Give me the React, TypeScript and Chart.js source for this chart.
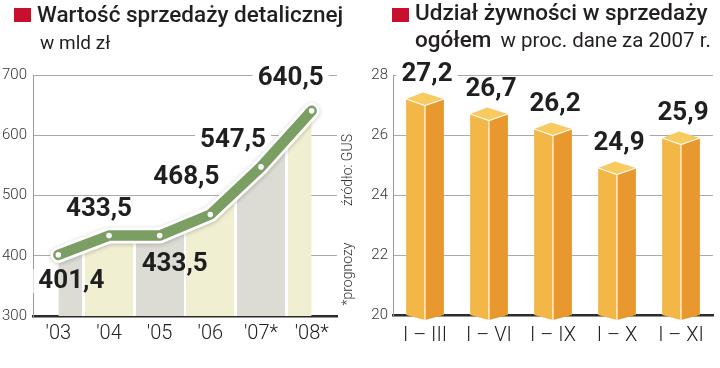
import React, { useEffect, useRef } from "react";
import { Chart, registerables } from "chart.js";

Chart.register(...registerables);

// ---------- data ----------
const YEARS = ["'03", "'04", "'05", "'06", "'07*", "'08*"];
const SALES = [401.4, 433.5, 433.5, 468.5, 547.5, 640.5];
const SALES_MIN = 300;
const SALES_MAX = 700;
const SALES_STEP = 100;

const PERIODS = ["I – III", "I – VI", "I – IX", "I – X", "I – XI"];
const FOOD_SHARE = [27.2, 26.7, 26.2, 24.9, 25.9];
const SHARE_MIN = 20;
const SHARE_MAX = 28;
const SHARE_STEP = 2;

// ---------- styles ----------
const FONT = "Roboto";
const GREEN = "#7b9f62";
const STRIPES = ["#dcdcd5", "#f0efd1"];
const FACE_L = "#f3b747";
const FACE_R = "#e8982c";
const FACE_T = "#f8ca5f";
const TEXT = "#1f1f1f";
// label offsets (px) relative to each point of the line chart
const SALES_LABEL_OFFSETS: [number, number][] = [
  [13, 26],
  [-10, -27],
  [15, 28],
  [-24, -38],
  [-28, -27],
  [-21, -33],
];

const fmt = (v: number) => v.toFixed(1).replace(".", ",");

function stripeFill(ctx: any) {
  const chart = ctx.chart;
  const area = chart.chartArea;
  const xs = chart.scales && chart.scales.x;
  if (!area || !xs) return STRIPES[0];
  const g = chart.ctx.createLinearGradient(area.left, 0, area.right, 0);
  const span = area.right - area.left;
  const n = chart.data.labels.length;
  const step = n > 1 ? xs.getPixelForValue(1) - xs.getPixelForValue(0) : span;
  const pos = (px: number) => Math.min(1, Math.max(0, (px - area.left) / span));
  const gap = 1.3;
  const blank = "rgba(255,255,255,1)";
  g.addColorStop(0, blank);
  for (let i = 0; i < n; i++) {
    const c = xs.getPixelForValue(i);
    const a = pos(c - step / 2 + gap);
    const b = pos(c + step / 2 - gap);
    const col = STRIPES[i % 2];
    g.addColorStop(a, blank);
    g.addColorStop(a, col);
    g.addColorStop(b, col);
    g.addColorStop(b, blank);
  }
  g.addColorStop(1, blank);
  return g;
}

const labelFont = `bold 26px ${FONT}`;

function drawLabelBoxes(chart: any, items: { x: number; y: number; text: string }[]) {
  const ctx = chart.ctx;
  ctx.save();
  ctx.font = labelFont;
  ctx.fillStyle = "#ffffff";
  items.forEach((it) => {
    const w = ctx.measureText(it.text).width;
    ctx.fillRect(it.x - w / 2 - 5, it.y - 12, w + 10, 24);
  });
  ctx.restore();
}

function drawLabelTexts(chart: any, items: { x: number; y: number; text: string }[]) {
  const ctx = chart.ctx;
  ctx.save();
  ctx.font = labelFont;
  ctx.fillStyle = TEXT;
  ctx.textAlign = "center";
  ctx.textBaseline = "middle";
  items.forEach((it) => ctx.fillText(it.text, it.x, it.y + 1));
  ctx.restore();
}

function salesLabelItems(chart: any) {
  const meta = chart.getDatasetMeta(2);
  return meta.data.map((pt: any, i: number) => ({
    x: pt.x + SALES_LABEL_OFFSETS[i][0],
    y: pt.y + SALES_LABEL_OFFSETS[i][1],
    text: fmt(SALES[i]),
  }));
}

const salesPlugin = {
  id: "salesDeco",
  beforeDatasetsDraw(chart: any) {
    drawLabelBoxes(chart, salesLabelItems(chart));
  },
  beforeDatasetDraw(chart: any, args: any) {
    if (args.index === 1) {
      chart.ctx.save();
      chart.ctx.shadowColor = "rgba(0,0,0,0.22)";
      chart.ctx.shadowBlur = 4;
      chart.ctx.shadowOffsetY = 1;
    }
  },
  afterDatasetDraw(chart: any, args: any) {
    if (args.index === 1) chart.ctx.restore();
  },
  afterDatasetsDraw(chart: any) {
    drawLabelTexts(chart, salesLabelItems(chart));
  },
};

function shareLabelItems(chart: any) {
  const meta = chart.getDatasetMeta(0);
  return meta.data.map((bar: any, i: number) => ({
    x: bar.x + 2,
    y: bar.y - 26,
    text: fmt(FOOD_SHARE[i]),
  }));
}

const prismPlugin = {
  id: "prism",
  beforeDatasetsDraw(chart: any) {
    drawLabelBoxes(chart, shareLabelItems(chart));
  },
  afterDatasetsDraw(chart: any) {
    const ctx = chart.ctx;
    const meta = chart.getDatasetMeta(0);
    const bottom = chart.chartArea.bottom;
    ctx.save();
    meta.data.forEach((bar: any) => {
      const p = bar.getProps(["x", "y", "base", "width"], true);
      const x = p.x;
      const y = p.y;
      const width = p.width;
      const base = Math.min(p.base, bottom);
      const h = width / 2;
      const d = 6.5;
      const v = 5;
      // left face
      ctx.beginPath();
      ctx.moveTo(x - h, y);
      ctx.lineTo(x, y + d);
      ctx.lineTo(x, base + v);
      ctx.lineTo(x - h, base);
      ctx.closePath();
      ctx.fillStyle = FACE_L;
      ctx.fill();
      // right face
      ctx.beginPath();
      ctx.moveTo(x, y + d);
      ctx.lineTo(x + h, y);
      ctx.lineTo(x + h, base);
      ctx.lineTo(x, base + v);
      ctx.closePath();
      ctx.fillStyle = FACE_R;
      ctx.fill();
      // top face
      ctx.beginPath();
      ctx.moveTo(x - h, y);
      ctx.lineTo(x - 2, y - d);
      ctx.lineTo(x + h, y);
      ctx.lineTo(x, y + d);
      ctx.closePath();
      ctx.fillStyle = FACE_T;
      ctx.fill();
      // edges
      ctx.strokeStyle = "rgba(255,255,255,0.9)";
      ctx.lineWidth = 1.2;
      ctx.beginPath();
      ctx.moveTo(x - h, y);
      ctx.lineTo(x, y + d);
      ctx.lineTo(x + h, y);
      ctx.moveTo(x, y + d);
      ctx.lineTo(x, base + v);
      ctx.stroke();
    });
    ctx.restore();
    drawLabelTexts(chart, shareLabelItems(chart));
  },
};

function SalesChart() {
  const ref = useRef<HTMLCanvasElement | null>(null);
  useEffect(() => {
    if (!ref.current) return;
    const chart = new Chart(ref.current, {
      type: "line",
      data: {
        labels: YEARS,
        datasets: [
          {
            data: SALES,
            order: 3,
            fill: "start",
            backgroundColor: stripeFill as any,
            borderWidth: 0,
            pointRadius: 0,
          },
          {
            data: SALES,
            order: 2,
            fill: false,
            borderColor: "#ffffff",
            borderWidth: 16,
            pointRadius: 0,
            borderJoinStyle: "round",
            borderCapStyle: "round",
          },
          {
            data: SALES,
            order: 1,
            fill: false,
            borderColor: GREEN,
            borderWidth: 10.5,
            pointRadius: 2.8,
            pointBackgroundColor: "#ffffff",
            pointBorderWidth: 0,
            borderJoinStyle: "round",
            borderCapStyle: "round",
          },
        ],
      } as any,
      options: {
        responsive: false,
        animation: false,
        layout: { padding: { top: 75, right: 23, left: 0, bottom: 0 } },
        plugins: { legend: { display: false }, tooltip: { enabled: false } },
        scales: {
          x: {
            offset: true,
            grid: { display: false, drawTicks: false },
            border: { display: true, color: "#2b2b2b", width: 2.5 },
            ticks: { font: { family: FONT, size: 20, weight: "300" }, color: "#222", padding: 6 },
            afterFit: (s: any) => {
              s.height = 52;
            },
          },
          y: {
            min: SALES_MIN,
            max: SALES_MAX,
            beginAtZero: false,
            ticks: {
              stepSize: SALES_STEP,
              font: { family: FONT, size: 15, weight: "300" },
              color: "#333",
              padding: 6,
            },
            grid: {
              color: (c: any) => (c.tick && c.tick.value === SALES_MIN ? "rgba(0,0,0,0)" : "#a9a9a9"),
              lineWidth: 1,
              drawTicks: false,
            },
            border: { display: true, color: "#9a9a9a", width: 1 },
            afterFit: (s: any) => {
              s.width = 33;
            },
          },
        },
      } as any,
      plugins: [salesPlugin],
    });
    return () => chart.destroy();
  }, []);
  return <canvas ref={ref} width={360} height={368} style={{ width: 360, height: 368, display: "block" }} />;
}

function ShareChart() {
  const ref = useRef<HTMLCanvasElement | null>(null);
  useEffect(() => {
    if (!ref.current) return;
    const chart = new Chart(ref.current, {
      type: "bar",
      data: {
        labels: PERIODS,
        datasets: [
          {
            data: FOOD_SHARE,
            backgroundColor: "rgba(0,0,0,0)",
            borderWidth: 0,
            barPercentage: 0.59,
            categoryPercentage: 1,
          },
        ],
      },
      options: {
        responsive: false,
        animation: false,
        layout: { padding: { top: 75, right: 7, left: 0, bottom: 0 } },
        plugins: { legend: { display: false }, tooltip: { enabled: false } },
        scales: {
          x: {
            grid: { display: false, drawTicks: false },
            border: { display: true, color: "#2b2b2b", width: 2.5 },
            ticks: { font: { family: FONT, size: 20, weight: "300" }, color: "#222", padding: 9 },
            afterFit: (s: any) => {
              s.height = 53;
            },
          },
          y: {
            min: SHARE_MIN,
            max: SHARE_MAX,
            beginAtZero: false,
            ticks: {
              stepSize: SHARE_STEP,
              font: { family: FONT, size: 15, weight: "300" },
              color: "#333",
              padding: 5,
            },
            grid: {
              color: (c: any) => (c.tick && c.tick.value === SHARE_MIN ? "rgba(0,0,0,0)" : "#a9a9a9"),
              lineWidth: 1,
              drawTicks: false,
            },
            border: { display: true, color: "#9a9a9a", width: 1 },
            afterFit: (s: any) => {
              s.width = 33;
            },
          },
        },
      } as any,
      plugins: [prismPlugin],
    });
    return () => chart.destroy();
  }, []);
  return <canvas ref={ref} width={360} height={368} style={{ width: 360, height: 368, display: "block" }} />;
}

const abs = (s: React.CSSProperties): React.CSSProperties => ({ position: "absolute", whiteSpace: "nowrap", ...s });

export default function App() {
  return (
    <div
      style={{
        position: "absolute",
        left: 0,
        top: 0,
        width: 720,
        height: 368,
        background: "#ffffff",
        overflow: "hidden",
        fontFamily: FONT,
        color: "#231f20",
      }}
    >
      <div style={abs({ left: 0, top: 0 })}>
        <SalesChart />
      </div>
      <div style={abs({ left: 360, top: 0 })}>
        <ShareChart />
      </div>

      {/* titles */}
      <div style={abs({ left: 14, top: 8, width: 17, height: 14, background: "#c8102e" })} />
      <div style={abs({ left: 37, top: 0, fontSize: 22.5, fontWeight: 500, lineHeight: "28px" })}>
        Wartość sprzedaży detalicznej
      </div>
      <div style={abs({ left: 40, top: 31, fontSize: 19, fontWeight: 400, lineHeight: "24px" })}>w mld zł</div>

      <div style={abs({ left: 392, top: 8, width: 17, height: 14, background: "#c8102e" })} />
      <div style={abs({ left: 415, top: -2, fontSize: 22.5, fontWeight: 500, lineHeight: "28px" })}>
        Udział żywności w sprzedaży
      </div>
      <div style={abs({ left: 415, top: 25, fontSize: 22.5, fontWeight: 500, lineHeight: "28px" })}>
        ogółem
        <span style={{ fontSize: 20.5, fontWeight: 400, marginLeft: 9 }}>w proc. dane za 2007 r.</span>
      </div>

      {/* vertical notes */}
      <div
        style={abs({
          left: 347,
          top: 170,
          transform: "translate(-50%,-50%) rotate(-90deg)",
          fontSize: 14,
          fontWeight: 300,
          color: "#333",
        })}
      >
        źródło: GUS
      </div>
      <div
        style={abs({
          left: 347,
          top: 274,
          transform: "translate(-50%,-50%) rotate(-90deg)",
          fontSize: 14,
          fontWeight: 300,
          color: "#333",
        })}
      >
        *prognozy
      </div>
    </div>
  );
}
